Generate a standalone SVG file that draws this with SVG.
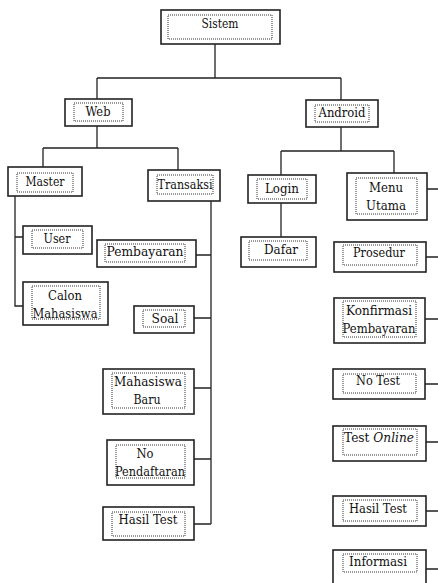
<svg xmlns="http://www.w3.org/2000/svg" width="438" height="583" viewBox="0 0 438 583">
<style>
.o{fill:#fff;stroke:#222;stroke-width:1.6}
.i{fill:none;stroke:#333;stroke-width:1;stroke-dasharray:1 1}
text{font-family:'DejaVu Serif','Liberation Serif',serif;font-size:12.5px;fill:#111;text-anchor:middle}
.c{fill:none;stroke:#222;stroke-width:1.3}
</style>
<rect width="438" height="583" fill="#fff"/>
<g id="connectors">
<path class="c" d="M215,44V78M97,78H341M97,78V99M341,78V100"/>
<path class="c" d="M97,126V148M43,148H178M43,148V167M178,148V170"/>
<path class="c" d="M341,127V151M281,151H394M281,151V175M394,151V173"/>
<path class="c" d="M15,196V306H23M15,237H23"/>
<path class="c" d="M281,203V237"/>
<path class="c" d="M211,201V524M196,255H211M194,318H211M194,388H211M194,459H211M194,524H211"/>
<path class="c" d="M427,189H438M426,257H438M425,319H438M425,384H438M426,442H438M426,511H438M426,569H438"/>
</g>
<g id="sistem"><rect class="o" x="161" y="10" width="119" height="34"/><rect class="i" x="168" y="15" width="104" height="24"/><text x="220" y="28" textLength="37" lengthAdjust="spacingAndGlyphs">Sistem</text></g>
<g id="web"><rect class="o" x="65" y="99" width="67" height="27"/><rect class="i" x="74" y="103" width="49" height="18"/><text x="98" y="116" textLength="25" lengthAdjust="spacingAndGlyphs">Web</text></g>
<g id="android"><rect class="o" x="306" y="100" width="72" height="27"/><rect class="i" x="315" y="105" width="54" height="17"/><text x="342" y="117" textLength="47" lengthAdjust="spacingAndGlyphs">Android</text></g>
<g id="master"><rect class="o" x="8" y="167" width="74" height="29"/><rect class="i" x="17" y="173" width="56" height="19"/><text x="45" y="186" textLength="39" lengthAdjust="spacingAndGlyphs">Master</text></g>
<g id="transaksi"><rect class="o" x="148" y="170" width="72" height="31"/><rect class="i" x="157" y="175" width="56" height="19"/><text x="185" y="189" textLength="55" lengthAdjust="spacingAndGlyphs">Transaksi</text></g>
<g id="login"><rect class="o" x="248" y="175" width="68" height="28"/><rect class="i" x="257" y="179" width="50" height="20"/><text x="282" y="193" textLength="34" lengthAdjust="spacingAndGlyphs">Login</text></g>
<g id="menu-utama"><rect class="o" x="347" y="173" width="80" height="47"/><rect class="i" x="356" y="178" width="61" height="36"/><text x="386" y="192" textLength="34" lengthAdjust="spacingAndGlyphs">Menu</text><text x="386" y="210" textLength="40" lengthAdjust="spacingAndGlyphs">Utama</text></g>
<g id="user"><rect class="o" x="23" y="226" width="69" height="28"/><rect class="i" x="32" y="230" width="51" height="18"/><text x="57" y="243" textLength="27" lengthAdjust="spacingAndGlyphs">User</text></g>
<g id="calon-mahasiswa"><rect class="o" x="23" y="282" width="85" height="43"/><rect class="i" x="32" y="286" width="68" height="33"/><text x="65" y="300" textLength="34" lengthAdjust="spacingAndGlyphs">Calon</text><text x="65" y="318" textLength="65" lengthAdjust="spacingAndGlyphs">Mahasiswa</text></g>
<g id="dafar"><rect class="o" x="241" y="237" width="75" height="30"/><rect class="i" x="249" y="241" width="58" height="19"/><text x="281" y="254" textLength="34" lengthAdjust="spacingAndGlyphs">Dafar</text></g>
<g id="pembayaran"><rect class="o" x="97" y="240" width="99" height="27"/><rect class="i" x="105" y="244" width="80" height="18"/><text x="145" y="256" textLength="77" lengthAdjust="spacingAndGlyphs">Pembayaran</text></g>
<g id="soal"><rect class="o" x="134" y="306" width="60" height="27"/><rect class="i" x="143" y="310" width="42" height="17"/><text x="165" y="323" textLength="27" lengthAdjust="spacingAndGlyphs">Soal</text></g>
<g id="mahasiswa-baru"><rect class="o" x="103" y="369" width="91" height="45"/><rect class="i" x="112" y="373" width="73" height="35"/><text x="148" y="386" textLength="68" lengthAdjust="spacingAndGlyphs">Mahasiswa</text><text x="147" y="404" textLength="27" lengthAdjust="spacingAndGlyphs">Baru</text></g>
<g id="no-pendaftaran"><rect class="o" x="107" y="440" width="87" height="45"/><rect class="i" x="116" y="445" width="69" height="33"/><text x="145" y="458" textLength="17" lengthAdjust="spacingAndGlyphs">No</text><text x="150" y="476" textLength="70" lengthAdjust="spacingAndGlyphs">Pendaftaran</text></g>
<g id="hasil-test-web"><rect class="o" x="103" y="507" width="91" height="33"/><rect class="i" x="112" y="512" width="73" height="24"/><text x="148" y="524" textLength="59" lengthAdjust="spacingAndGlyphs">Hasil Test</text></g>
<g id="prosedur"><rect class="o" x="334" y="242" width="92" height="30"/><rect class="i" x="343" y="245" width="74" height="20"/><text x="379" y="257" textLength="52" lengthAdjust="spacingAndGlyphs">Prosedur</text></g>
<g id="konfirmasi-pembayaran"><rect class="o" x="334" y="298" width="91" height="45"/><rect class="i" x="343" y="301" width="73" height="36"/><text x="379" y="315" textLength="66" lengthAdjust="spacingAndGlyphs">Konfirmasi</text><text x="379" y="333" textLength="73" lengthAdjust="spacingAndGlyphs">Pembayaran</text></g>
<g id="no-test"><rect class="o" x="333" y="369" width="92" height="30"/><rect class="i" x="343" y="374" width="73" height="19"/><text x="378" y="385" textLength="44" lengthAdjust="spacingAndGlyphs">No Test</text></g>
<g id="test-online"><rect class="o" x="333" y="426" width="93" height="35"/><rect class="i" x="343" y="429" width="74" height="26"/><text x="379" y="442" textLength="70" lengthAdjust="spacingAndGlyphs">Test <tspan font-style="italic">Online</tspan></text></g>
<g id="hasil-test-android"><rect class="o" x="333" y="496" width="93" height="30"/><rect class="i" x="343" y="500" width="74" height="21"/><text x="378" y="513" textLength="58" lengthAdjust="spacingAndGlyphs">Hasil Test</text></g>
<g id="informasi"><rect class="o" x="333" y="550" width="93" height="40"/><rect class="i" x="343" y="554" width="74" height="18"/><text x="378" y="566" textLength="58" lengthAdjust="spacingAndGlyphs">Informasi</text></g>
</svg>
